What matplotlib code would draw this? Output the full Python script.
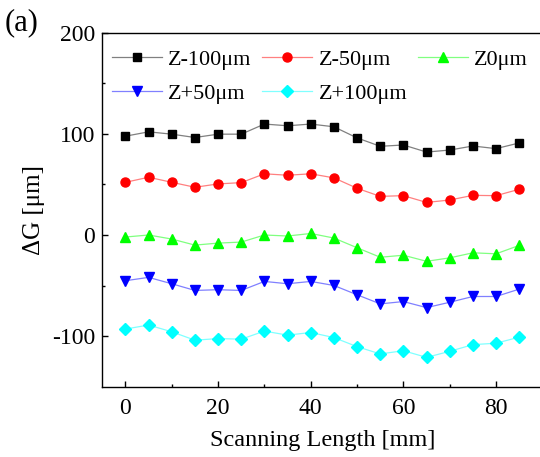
import numpy as np
import matplotlib
matplotlib.use("Agg")
import matplotlib.pyplot as plt

plt.rcParams["font.family"] = ["Liberation Serif", "DejaVu Serif"]
plt.rcParams["axes.unicode_minus"] = False

scan_length = [0, 5, 10, 15, 20, 25, 30, 35, 40, 45, 50, 55, 60, 65, 70, 75, 80, 85]
z_minus_100 = [97.7, 102, 99.7, 96.4, 99.7, 99.7, 109.7, 108, 109.7, 107, 96, 87.7, 89, 82, 84, 88, 85.4, 91]
z_minus_50 = [52.1, 57.1, 52.1, 47.2, 50.5, 51.8, 60.5, 59.1, 60.5, 56.5, 46.2, 38.2, 38.9, 32.2, 34.6, 39.2, 38.9, 45.2]
z_zero = [-2, 0, -4, -10, -8, -7, 0, -1, 1.5, -3, -12.6, -22, -20, -26, -22.6, -17.6, -18.6, -10.3]
z_plus_50 = [-45.2, -41.9, -48.2, -54.8, -54.1, -54.8, -45.9, -48.2, -45.9, -49.9, -59.1, -68.1, -65.8, -71.8, -66.5, -60.8, -60.8, -53.5]
z_plus_100 = [-93, -89, -95.7, -104, -102.4, -103, -95, -99, -96.4, -101.4, -110.4, -117.6, -114.4, -121, -115, -108.4, -107, -101]

series = [
    ("Z-100\u03bcm", z_minus_100, "s", "black", "#808080", 6),
    ("Z-50\u03bcm", z_minus_50, "o", "#ff0000", "#ff8080", 6.5),
    ("Z0\u03bcm", z_zero, "^", "#00ff00", "#80ff80", 7),
    ("Z+50\u03bcm", z_plus_50, "v", "#0000ff", "#8080ff", 7),
    ("Z+100\u03bcm", z_plus_100, "D", "#00ffff", "#80ffff", 6.3),
]

fig = plt.figure(figsize=(5.4, 4.57), dpi=100)
ax = fig.add_axes([0.1894, 0.1538, 0.815, 0.7746])

handles = []
for label, vals, mk, col, lcol, ms in series:
    h, = ax.plot(scan_length, vals, color=lcol, linewidth=0.9, marker=mk,
                 markersize=ms, markerfacecolor=col,
                 markeredgecolor=col, label=label)
    handles.append(h)

ax.set_xlim(-5, 90)
ax.set_ylim(-150, 200)
ax.set_xticks([0, 20, 40, 60, 80])
ax.set_xticks([10, 30, 50, 70, 90], minor=True)
ax.set_yticks([-100, 0, 100, 200])
ax.set_yticks([-50, 50, 150], minor=True)
ax.tick_params(which="both", direction="in", labelsize=17, width=1)
ax.tick_params(which="major", length=4.5)
ax.tick_params(which="minor", length=2.5)
ax.tick_params(axis="x", pad=8)
ax.tick_params(axis="y", pad=5)
for sp in ax.spines.values():
    sp.set_linewidth(1)

ax.set_xlabel("Scanning Length [mm]", fontsize=17.5, labelpad=8)
ax.set_ylabel("\u0394G [\u03bcm]", fontsize=18, labelpad=5)
fig.text(0.008, 0.95, "(a)", fontsize=22, va="center")

# row-wise legend order for 3 columns
order = [0, 3, 1, 4, 2]
ax.legend([handles[i] for i in order], [series[i][0] for i in order],
          loc="upper left", ncol=3, frameon=False, fontsize=16,
          numpoints=1, handlelength=2.25, columnspacing=0.5,
          handletextpad=0.27, labelspacing=0.58, borderpad=0,
          bbox_to_anchor=(0.022, 0.952), borderaxespad=0)

fig.savefig("out.png", dpi=100)
